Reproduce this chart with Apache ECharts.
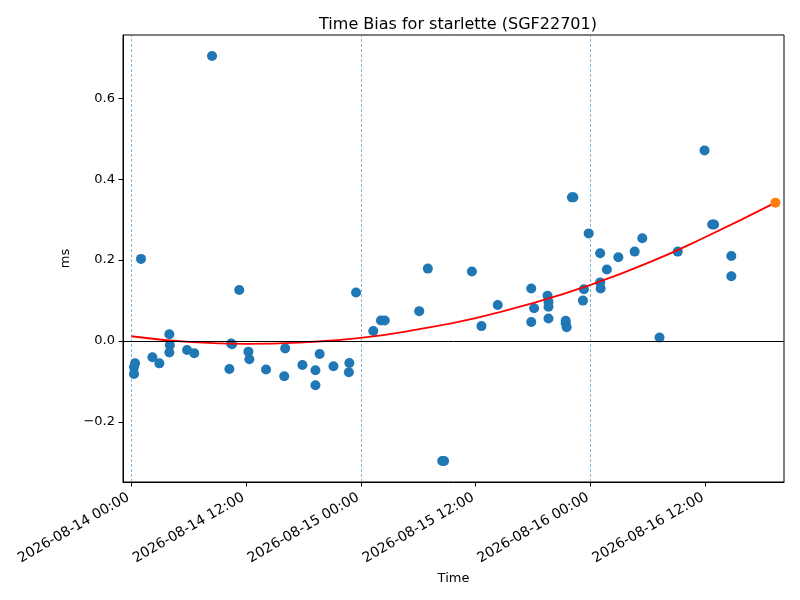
<!DOCTYPE html>
<html lang="en">
<head>
    <meta charset="UTF-8">
    <title>Time Bias for starlette (SGF22701)</title>
    <style>
        body { margin: 0; padding: 0; background: #fff; }
        #chart { width: 800px; height: 600px; }
    </style>
</head>
<body>
    <div id="chart"></div>
    <script src="https://cdn.jsdelivr.net/npm/echarts@6.0.0/dist/echarts.min.js"></script>
    <script>
        // hours since 2026-08-14 00:00 and time bias in ms
        const obsHours = [
            0.31, 0.31, 0.42, 1.04, 2.23, 2.96, 4.0, 4.05, 4.0, 5.85, 6.6, 8.46,
            10.27, 10.45, 10.55, 11.3, 12.26, 12.36, 14.1, 16.0, 16.1, 17.9, 19.26, 19.26,
            19.7, 21.14, 22.8, 22.75, 23.5, 25.3, 26.1, 26.5, 30.1, 31.0, 32.5, 32.7,
            35.6, 36.6, 38.3, 41.8, 42.1, 41.8, 43.5, 43.6, 43.6, 43.6, 45.4, 45.4,
            45.5, 46.05, 46.2, 47.2, 47.3, 47.8, 49.0, 49.0, 49.05, 49.7, 50.9, 52.6,
            53.4, 55.2, 57.1, 59.9, 60.7, 60.9, 62.7, 62.7
        ];
        const obsBias = [
            -0.064, -0.081, -0.055, 0.203, -0.040, -0.055, 0.017, -0.010, -0.028, -0.022, -0.030, 0.704,
            -0.069, -0.006, -0.008, 0.126, -0.026, -0.045, -0.070, -0.087, -0.018, -0.059, -0.072, -0.109,
            -0.032, -0.062, -0.054, -0.077, 0.120, 0.025, 0.051, 0.051, 0.074, 0.179, -0.296, -0.296,
            0.172, 0.037, 0.089, 0.130, 0.081, 0.047, 0.112, 0.097, 0.085, 0.056, 0.050, 0.044,
            0.034, 0.355, 0.355, 0.100, 0.128, 0.266, 0.217, 0.145, 0.130, 0.177, 0.207, 0.221,
            0.254, 0.009, 0.221, 0.471, 0.288, 0.288, 0.210, 0.160
        ];
        // fitted curve
        const fitHours = [0, 6, 12, 18, 24, 30, 36, 42, 48, 54, 60, 67.3];
        const fitBias = [0.012, -0.002, -0.007, -0.003, 0.008, 0.029, 0.057, 0.094, 0.139, 0.193, 0.257, 0.342];
        // predicted point
        const predHours = [67.3];
        const predBias = [0.342];
        // day boundaries (dashed lines)
        const dayHours = [0, 24, 48];

        const tickHours = [0, 12, 24, 36, 48, 60];
        const tickLabels = ['2026-08-14 00:00', '2026-08-14 12:00', '2026-08-15 00:00',
                            '2026-08-15 12:00', '2026-08-16 00:00', '2026-08-16 12:00'];
        const yTicks = [-0.2, 0, 0.2, 0.4, 0.6];

        const pairs = (xs, ys) => xs.map((h, i) => [h, ys[i]]);

        const chart = echarts.init(document.getElementById('chart'));
        const font = 'DejaVu Sans';

        chart.setOption({
            animation: false,
            backgroundColor: '#fff',
            textStyle: { fontFamily: font },
            title: {
                text: 'Time Bias for starlette (SGF22701)',
                left: 453, top: 12, textAlign: 'center',
                textStyle: { fontFamily: font, fontSize: 16, fontWeight: 'normal', color: '#000' }
            },
            grid: {
                left: 123, right: 16, top: 35, bottom: 118,
                show: true, borderColor: '#000', borderWidth: 1
            },
            xAxis: {
                type: 'value',
                min: -0.84, max: 68.2,
                name: 'Time', nameLocation: 'middle', nameGap: 90,
                nameTextStyle: { fontFamily: font, fontSize: 13, color: '#000' },
                splitLine: { show: false },
                axisLine: { onZero: false, lineStyle: { color: '#000', width: 1 } },
                axisTick: {
                    length: 4.5, lineStyle: { color: '#000' },
                    customValues: tickHours
                },
                axisLabel: {
                    rotate: 30, margin: 13, fontFamily: font, fontSize: 14, color: '#000',
                    customValues: tickHours,
                    padding: [0, 3, 0, 0],
                    formatter: v => tickLabels[tickHours.indexOf(Math.round(v))] || ''
                }
            },
            yAxis: {
                type: 'value',
                min: -0.348, max: 0.756,
                name: 'ms', nameLocation: 'middle', nameGap: 49, nameRotate: 90,
                nameTextStyle: { fontFamily: font, fontSize: 13, color: '#000' },
                splitLine: { show: false },
                axisLine: { show: true, onZero: false, lineStyle: { color: '#000', width: 1 } },
                axisTick: { show: true, length: 4.5, lineStyle: { color: '#000' }, customValues: yTicks },
                axisLabel: {
                    margin: 8, fontFamily: font, fontSize: 13, color: '#000',
                    customValues: yTicks,
                    formatter: v => v.toFixed(1).replace('-', '\u2212')
                }
            },
            series: [
                {
                    name: 'bias', type: 'scatter',
                    data: pairs(obsHours, obsBias),
                    symbolSize: 10,
                    itemStyle: { color: '#1f77b4', opacity: 1 },
                    z: 3,
                    markLine: {
                        silent: true, symbol: 'none', label: { show: false },
                        animation: false,
                        data: dayHours.map(h => ({
                            xAxis: h,
                            lineStyle: { color: '#1f77b4', width: 0.6, type: [3, 2], opacity: 0.9 }
                        })).concat([{
                            yAxis: 0,
                            lineStyle: { color: '#000', width: 1, type: 'solid' }
                        }])
                    }
                },
                {
                    name: 'fit', type: 'line',
                    data: pairs(fitHours, fitBias),
                    smooth: true, showSymbol: false,
                    lineStyle: { color: '#ff0000', width: 1.8 },
                    z: 4
                },
                {
                    name: 'prediction', type: 'scatter',
                    data: pairs(predHours, predBias),
                    symbolSize: 10,
                    itemStyle: { color: '#ff7f0e', opacity: 1 },
                    z: 5
                }
            ]
        });
    </script>
</body>
</html>
